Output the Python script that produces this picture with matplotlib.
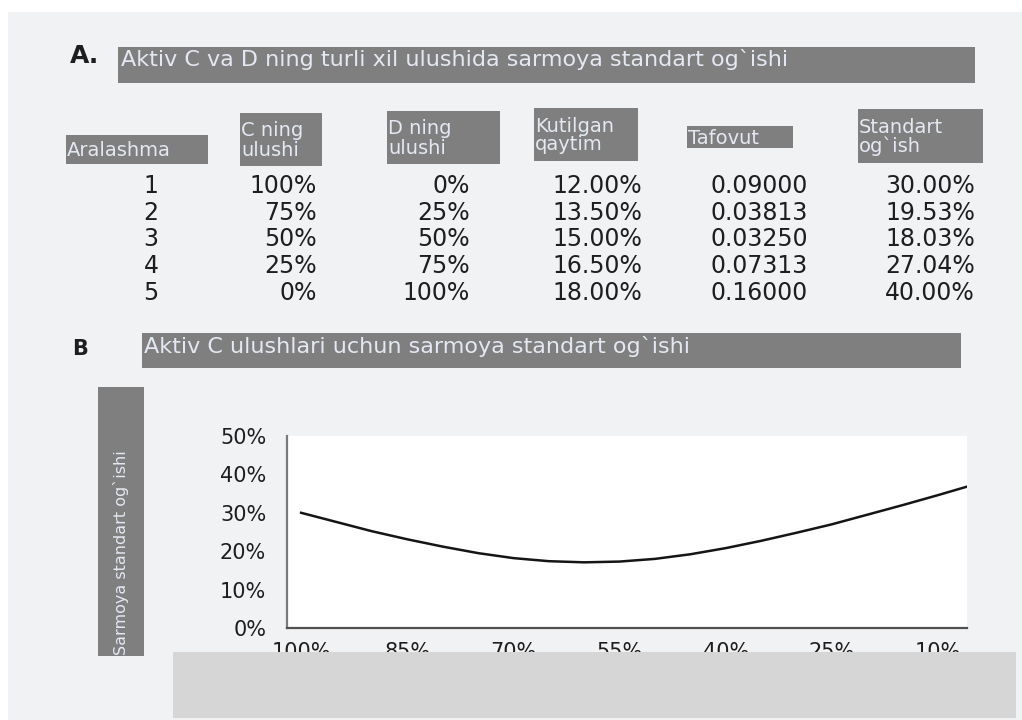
import matplotlib
matplotlib.use("Agg")
import matplotlib.pyplot as plt
from matplotlib.patches import Rectangle

# canvas size in pixels, everything below is laid out in pixel coords
W, H = 1022, 720

# A: mixes of assets C and D
mix = [1, 2, 3, 4, 5]
c_share = [100, 75, 50, 25, 0]
d_share = [0, 25, 50, 75, 100]
exp_return = [12.00, 13.50, 15.00, 16.50, 18.00]
variance = [0.09000, 0.03813, 0.03250, 0.07313, 0.16000]
std_dev = [30.00, 19.53, 18.03, 27.04, 40.00]

headers = ["Aralashma", "C ning\nulushi", "D ning\nulushi",
           "Kutilgan\nqaytim", "Tafovut", "Standart\nog`ish"]

# B: portfolio standard deviation against share of C
curve_share = [100, 95, 90, 85, 80, 75, 70, 65, 60, 55,
               50, 45, 40, 35, 30, 25, 20, 15, 10, 5]
curve_sd = [30.0, 27.6, 25.2, 23.1, 21.2, 19.5, 18.2, 17.4, 17.1, 17.3,
            18.0, 19.2, 20.8, 22.7, 24.8, 27.0, 29.5, 32.0, 34.6, 37.3]

x_ticks = [100, 85, 70, 55, 40, 25, 10]
y_ticks = [0, 10, 20, 30, 40, 50]

title_a = "Aktiv C va D ning turli xil ulushida sarmoya standart og`ishi"
title_b = "Aktiv C ulushlari uchun sarmoya standart og`ishi"
y_label = "Sarmoya standart og`ishi"

BG = "#f1f2f4"
BOX = "#7f7f7f"
BOX_TEXT = "#e4e8f2"
INK = "#1e1e1e"


def fx(x):
    return x / W


def fy(y):
    return 1 - y / H


def box(fig, x0, y0, x1, y1, color=BOX, z=1):
    fig.add_artist(Rectangle((fx(x0), fy(y1)), (x1 - x0) / W, (y1 - y0) / H,
                             transform=fig.transFigure, facecolor=color,
                             edgecolor="none", zorder=z))


def put(fig, x, y, s, **kw):
    fig.text(fx(x), fy(y), s, **kw)


fig = plt.figure(figsize=(W / 100, H / 100), dpi=100, facecolor="white")
plt.rcParams["font.family"] = ["DejaVu Sans"]

box(fig, 8, 12, W, H, color=BG, z=-5)

# ---- part A ----
put(fig, 70, 63, "A.", fontsize=18, fontweight="bold", color=INK, va="baseline")
box(fig, 118, 47, 975, 83)
put(fig, 121, 66, title_a, fontsize=16, color=BOX_TEXT, va="baseline")

header_boxes = [(66, 135, 208, 164), (240, 113, 322, 166), (387, 111, 500, 164),
                (534, 108, 638, 161), (687, 126, 793, 148), (858, 109, 983, 163)]
for (x0, y0, x1, y1), label in zip(header_boxes, headers):
    box(fig, x0, y0, x1, y1)
    put(fig, x0 + 1, (y0 + y1) / 2 + 1, label, fontsize=14, color=BOX_TEXT,
        va="center", ha="left", linespacing=1.0)

col_right = [317, 470, 642, 808, 975]
for i in range(len(mix)):
    yb = 193 + i * 26.7
    cells = ["%d%%" % c_share[i], "%d%%" % d_share[i], "%.2f%%" % exp_return[i],
             "%.5f" % variance[i], "%.2f%%" % std_dev[i]]
    put(fig, 151, yb, str(mix[i]), fontsize=17, color=INK, ha="center", va="baseline")
    for xr, s in zip(col_right, cells):
        put(fig, xr, yb, s, fontsize=17, color=INK, ha="right", va="baseline")

# ---- part B ----
put(fig, 72, 355, "B", fontsize=15, fontweight="bold", color=INK, va="baseline")
box(fig, 142, 333, 961, 368)
put(fig, 144, 353, title_b, fontsize=16, color=BOX_TEXT, va="baseline")

box(fig, 98, 387, 144, 656)
put(fig, 121, 655, y_label, fontsize=11.5, color=BOX_TEXT, rotation=90,
    ha="center", va="bottom")

ax = fig.add_axes([fx(287), fy(628), (967 - 287) / W, (628 - 436) / H])
ax.set_facecolor("white")
ax.plot(curve_share, curve_sd, color="#151515", lw=1.8)
ax.set_xlim(102, 5.9)
ax.set_ylim(0, 50)
ax.set_xticks(x_ticks)
ax.set_xticklabels(["%d%%" % t for t in x_ticks])
ax.set_yticks(y_ticks)
ax.set_yticklabels(["%d%%" % t for t in y_ticks])
ax.tick_params(length=0, labelsize=15, labelcolor=INK)
ax.tick_params(axis="y", pad=15)
ax.tick_params(axis="x", pad=10)
for side in ["top", "right"]:
    ax.spines[side].set_visible(False)
ax.spines["left"].set_color("#7a7a7a")
ax.spines["left"].set_linewidth(1.6)
ax.spines["bottom"].set_color("#505050")
ax.spines["bottom"].set_linewidth(1.6)

# grey strip over the lower part of the x labels
box(fig, 173, 652, 1016, 718, color="#d6d6d6", z=10)

fig.savefig("out.png", dpi=100, facecolor=fig.get_facecolor())
